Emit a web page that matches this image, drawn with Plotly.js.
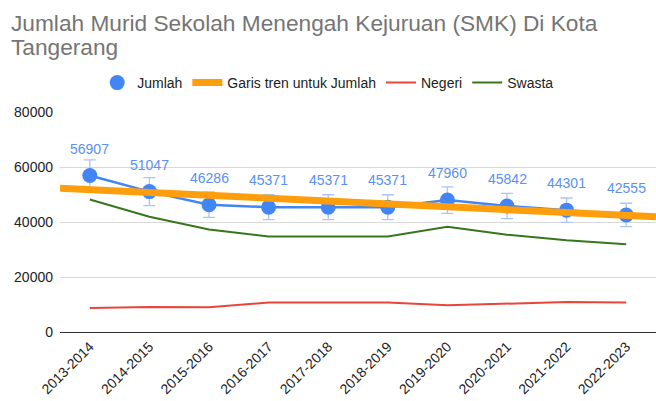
<!DOCTYPE html>
<html>
<head>
<meta charset="utf-8">
<script src="https://cdn.plot.ly/plotly-3.0.1.min.js"></script>
<style>html,body{margin:0;padding:0;background:#fff;}#chart{width:656px;height:401px;}</style>
</head>
<body>
<div id="chart"></div>
<script>
const years = ["2013-2014","2014-2015","2015-2016","2016-2017","2017-2018","2018-2019","2019-2020","2020-2021","2021-2022","2022-2023"];
const jumlah = [56907, 51047, 46286, 45371, 45371, 45371, 47960, 45842, 44301, 42555];
const negeri = [8700, 9100, 9000, 10700, 10700, 10700, 9700, 10400, 10900, 10700];
const swasta = [48200, 41900, 37300, 34700, 34700, 34700, 38300, 35400, 33400, 31900];
const yTicks = [0, 20000, 40000, 60000, 80000];
const titleLines = ["Jumlah Murid Sekolah Menengah Kejuruan (SMK) Di Kota", "Tangerang"];

// linear trend line (least squares) over category index, extended to plot edges
const n = jumlah.length;
const xs = jumlah.map((_, i) => i);
const mx = xs.reduce((a, b) => a + b, 0) / n;
const my = jumlah.reduce((a, b) => a + b, 0) / n;
let sxy = 0, sxx = 0;
for (let i = 0; i < n; i++) { sxy += (xs[i] - mx) * (jumlah[i] - my); sxx += (xs[i] - mx) ** 2; }
const slope = sxy / sxx, icpt = my - slope * mx;
const trendX = [-0.5, n - 0.5];
const trendY = trendX.map(x => icpt + slope * x);

const font = "Arial, 'Liberation Sans', sans-serif";
const blue = "#4285f4";

const W = 656, H = 401, ML = 60, MR = 0, MT = 112, MB = 69;
const PW = W - ML - MR, PH = H - MT - MB;
const px2x = p => (p - ML) / PW;
const px2y = p => 1 + (MT - p) / PH;

const traces = [
  { x: trendX, y: trendY, type: "scatter", mode: "lines", name: "Garis tren untuk Jumlah",
    line: { color: "#ff9e0d", width: 7 }, legendrank: 2, xaxis: "x2", hoverinfo: "skip" },
  { x: years, y: negeri, type: "scatter", mode: "lines", name: "Negeri",
    line: { color: "#e8453c", width: 2 }, legendrank: 3 },
  { x: years, y: swasta, type: "scatter", mode: "lines", name: "Swasta",
    line: { color: "#38761d", width: 2 }, legendrank: 4 },
  { x: years, y: jumlah, type: "scatter", mode: "lines", name: "Jumlah",
    line: { color: blue, width: 2.5 }, showlegend: false },
  { x: years, y: jumlah, type: "scatter", mode: "markers", name: "Jumlah",
    marker: { color: blue, size: 15 }, legendrank: 1,
    error_y: { type: "percent", value: 10, color: "#a9c6f7", thickness: 1.3, width: 6 } }
];

const annotations = years.map((yr, i) => ({
  x: yr, y: jumlah[i], xref: "x", yref: "y", text: String(jumlah[i]),
  showarrow: false, yshift: 27, font: { family: font, size: 14, color: "#5b8ff2" }
}));
titleLines.forEach((t, i) => annotations.push({
  text: t, xref: "paper", yref: "paper", x: px2x(9), y: px2y(8 + i * 24),
  xanchor: "left", yanchor: "top", showarrow: false,
  font: { family: font, size: 22.7, color: "#757575" }
}));

const layout = {
  width: W, height: H,
  margin: { l: ML, r: MR, t: MT, b: MB },
  paper_bgcolor: "#fff", plot_bgcolor: "#fff",
  showlegend: true,
  legend: { orientation: "h", x: 0.45, xanchor: "center", y: px2y(83), yanchor: "middle",
    font: { family: font, size: 14, color: "#222" }, itemwidth: 30, traceorder: "normal" },
  xaxis: { type: "category", categoryarray: years, range: [-0.5, 9.5], tickangle: -45,
    tickfont: { family: font, size: 14, color: "#222" }, showgrid: false,
    showline: true, linecolor: "#333", linewidth: 1, ticks: "", fixedrange: true },
  xaxis2: { overlaying: "x", range: [-0.5, 9.5], visible: false, fixedrange: true },
  yaxis: { range: [0, 80000], tickvals: yTicks, ticktext: yTicks.map(String),
    tickfont: { family: font, size: 14, color: "#222" },
    gridcolor: "#d9d9d9", gridwidth: 1, zeroline: true, zerolinecolor: "#333", zerolinewidth: 1,
    ticks: "", ticklabelstandoff: 6, fixedrange: true },
  annotations: annotations
};

Plotly.newPlot("chart", traces, layout, { displayModeBar: false, staticPlot: true });
</script>
</body>
</html>
